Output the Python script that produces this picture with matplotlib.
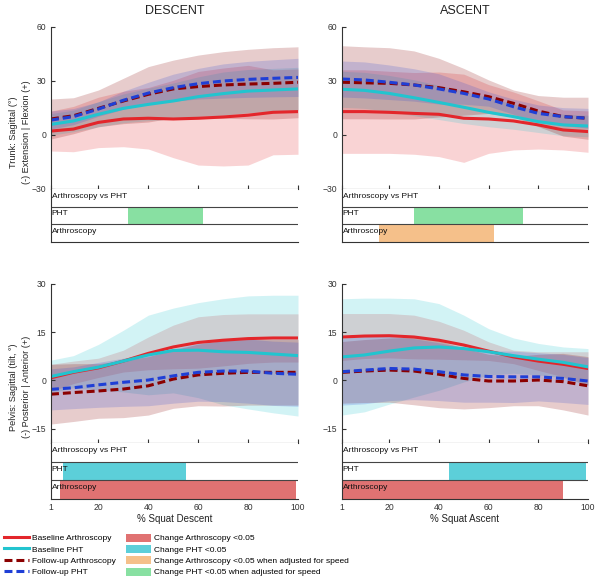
import matplotlib
matplotlib.use("Agg")
import matplotlib.pyplot as plt
from matplotlib.patches import Patch
from matplotlib.lines import Line2D

plt.rcParams["font.family"] = ["Liberation Sans", "DejaVu Sans"]

# % of squat phase where values were read
pct = [1, 10, 20, 30, 40, 50, 60, 70, 80, 90, 100]

# trunk, descent  (ba = baseline arthroscopy, bp = baseline PHT, fa/fp = follow-up)
td_ba = [2.2, 3.3, 7.0, 8.9, 9.3, 8.9, 9.3, 10.0, 11.0, 12.6, 13.0]
td_ba_sd = [11.1, 12.6, 14.0, 15.4, 17.1, 21.5, 26.0, 27.2, 27.7, 23.6, 23.7]
td_bp = [5.9, 7.8, 11.5, 14.8, 17.0, 18.9, 21.3, 23.0, 24.4, 25.0, 25.6]
td_bp_sd = [6, 6, 7, 8, 9, 10, 11, 12, 12, 12, 12]
td_fa = [8.9, 10.7, 14.8, 18.9, 22.6, 25.6, 26.9, 27.8, 28.3, 28.7, 29.3]
td_fa_sd = [11.1, 10.0, 10.2, 12.6, 15.4, 16.0, 17.5, 18.5, 19.3, 19.8, 19.7]
td_fp = [8.3, 10.2, 14.4, 19.3, 23.3, 26.3, 28.5, 30.0, 30.9, 31.5, 32.0]
td_fp_sd = [5, 4.5, 4, 5, 6, 7.5, 8.5, 9.5, 10, 10.3, 10.6]

# trunk, ascent
ta_ba = [13.0, 13.0, 12.6, 12.0, 11.5, 9.3, 8.9, 7.8, 5.6, 2.8, 1.9]
ta_ba_sd = [23.2, 23.2, 22.8, 22.7, 23.5, 24.5, 19.1, 16.1, 13.4, 11.1, 11.5]
ta_bp = [25.4, 24.8, 23.1, 20.7, 18.1, 15.4, 12.6, 10.2, 7.4, 5.6, 5.0]
ta_bp_sd = [10, 10, 10, 10, 9.5, 9, 8, 7, 6, 6, 6]
ta_fa = [29.3, 29.0, 28.7, 27.8, 26.3, 24.0, 21.3, 17.6, 13.3, 10.2, 9.3]
ta_fa_sd = [20.3, 20.0, 19.8, 18.9, 16.3, 13.0, 9.3, 7.4, 8.6, 10.8, 11.7]
ta_fp = [31.1, 30.6, 29.3, 27.8, 25.6, 23.1, 20.0, 15.7, 12.0, 10.2, 9.3]
ta_fp_sd = [10, 10, 9.6, 9, 8.4, 6, 4, 4.2, 4.7, 5, 5.5]

# pelvis, descent
pd_ba = [0.8, 2.5, 3.9, 6.0, 8.4, 10.4, 11.8, 12.5, 13.0, 13.2, 13.2]
pd_ba_sd = [4.2, 3.5, 3.0, 3.4, 5.1, 6.8, 8.0, 8.0, 7.7, 7.5, 7.5]
pd_bp = [1.2, 2.7, 4.1, 6.0, 7.9, 9.3, 9.4, 8.9, 8.7, 8.2, 7.7]
pd_bp_sd = [5.1, 5.0, 7.1, 9.6, 12.4, 13.2, 14.8, 16.5, 17.6, 18.3, 18.8]
pd_fa = [-4.3, -3.8, -3.3, -2.7, -1.7, 0.4, 1.7, 2.2, 2.5, 2.5, 2.5]
pd_fa_sd = [9.3, 9.0, 8.5, 8.9, 9.1, 9.1, 9.6, 10.2, 10.2, 10.2, 10.2]
pd_fp = [-2.8, -2.3, -1.4, -0.6, 0.1, 1.4, 2.5, 2.9, 2.9, 2.2, 1.9]
pd_fp_sd = [6.4, 6.5, 7, 7.5, 8, 8.5, 9, 9.5, 10, 10, 10]

# pelvis, ascent
pa_ba = [13.5, 13.8, 13.9, 13.5, 12.5, 11.0, 9.1, 7.3, 6.0, 5.0, 3.7]
pa_ba_sd = [7.3, 7.0, 6.9, 6.8, 5.9, 4.6, 2.9, 2.1, 2.9, 3.9, 5.2]
pa_bp = [7.3, 7.9, 9.1, 10.1, 10.4, 9.9, 8.9, 7.7, 6.6, 5.6, 4.2]
pa_bp_sd = [18.1, 17.7, 16.5, 15.3, 13.5, 10.4, 7.2, 5.5, 4.9, 4.8, 5.7]
pa_fa = [2.5, 2.9, 3.2, 2.9, 1.9, 0.6, -0.2, -0.2, 0.1, -0.4, -1.7]
pa_fa_sd = [9.6, 9.8, 10.0, 10.5, 10.4, 9.5, 8.3, 7.7, 8.0, 8.8, 9.1]
pa_fp = [2.7, 3.2, 3.7, 3.5, 2.7, 1.7, 1.2, 1.1, 1.1, 0.6, -0.2]
pa_fp_sd = [10.4, 10.5, 10, 9.5, 9, 8.5, 8, 8, 7.5, 7.5, 7.3]

# significant ranges (% squat): (start, end)
td_pht_adj = (32, 62)
ta_pht_adj = (30, 74)
ta_arth_adj = (16, 62)
pd_pht = (6, 55)
pd_arth = (4.5, 99)
pa_pht = (44, 99)
pa_arth = (1, 90)

C_BA = "#e3262b"
C_BP = "#22c4cf"
C_FA = "#8b0000"
C_FP = "#1f3fd6"
C_SIG_A = "#e07272"
C_SIG_P = "#5ccfd9"
C_ADJ_A = "#f5c08a"
C_ADJ_P = "#88e0a2"
DASH = (2.6, 1.3)


def band(ax, m, sd, color, alpha):
    lo = [a - b for a, b in zip(m, sd)]
    hi = [a + b for a, b in zip(m, sd)]
    ax.fill_between(pct, lo, hi, color=color, alpha=alpha, lw=0)


def main_panel(ax, ba, ba_sd, bp, bp_sd, fa, fa_sd, fp, fp_sd, ylim, yticks):
    band(ax, ba, ba_sd, C_BA, 0.2)
    band(ax, bp, bp_sd, C_BP, 0.2)
    band(ax, fa, fa_sd, C_FA, 0.2)
    band(ax, fp, fp_sd, C_FP, 0.18)
    ax.plot(pct, ba, color=C_BA, lw=2.2)
    ax.plot(pct, bp, color=C_BP, lw=2.2)
    ax.plot(pct, fa, color=C_FA, lw=2.2, dashes=DASH)
    ax.plot(pct, fp, color=C_FP, lw=2.2, dashes=DASH)
    ax.set_xlim(1, 100)
    ax.set_ylim(*ylim)
    ax.set_yticks(yticks)
    ax.set_xticks([1, 20, 40, 60, 80, 100])
    ax.set_xticklabels([])
    ax.spines["top"].set_visible(False)
    ax.spines["right"].set_visible(False)
    for s in ["left", "bottom"]:
        ax.spines[s].set_color("#333333")
        ax.spines[s].set_linewidth(0.8)
    ax.tick_params(direction="in", length=3, width=0.8, labelsize=6.2,
                   colors="#333333", labelcolor="#333333")


def strip_panel(ax, pht=None, arth=None, pht_color=None, arth_color=None, xlabel=None):
    if pht is not None:
        ax.axvspan(pht[0], pht[1], ymin=1/3, ymax=2/3, color=pht_color, lw=0)
    if arth is not None:
        ax.axvspan(arth[0], arth[1], ymin=0, ymax=1/3, color=arth_color, lw=0)
    ax.set_xlim(1, 100)
    ax.set_ylim(0, 3)
    for yy in [1, 2]:
        ax.axhline(yy, color="#444444", lw=0.8)
    ax.set_yticks([])
    ax.spines["top"].set_visible(False)
    ax.spines["right"].set_visible(False)
    for s in ["left", "bottom"]:
        ax.spines[s].set_color("#333333")
        ax.spines[s].set_linewidth(0.8)
    ax.set_xticks([1, 20, 40, 60, 80, 100])
    ax.tick_params(axis="x", length=0, labelsize=6.2, colors="#333333", pad=3)
    if xlabel is None:
        ax.set_xticklabels([])
    else:
        ax.set_xlabel(xlabel, fontsize=7, color="#222222", labelpad=1)
    for yy, txt in [(2.6, "Arthroscopy vs PHT"), (1.6, "PHT"), (0.6, "Arthroscopy")]:
        ax.text(1.3, yy, txt, fontsize=6, va="center", ha="left", color="#111111")


fig = plt.figure(figsize=(6.0, 5.84), dpi=100)
W, H = 600.0, 584.0


def box(x0, y0, x1, y1):
    return [x0 / W, 1 - y1 / H, (x1 - x0) / W, (y1 - y0) / H]


cols = [(51, 298), (342, 588)]

ax = fig.add_axes(box(cols[0][0], 27, cols[0][1], 189))
main_panel(ax, td_ba, td_ba_sd, td_bp, td_bp_sd, td_fa, td_fa_sd, td_fp, td_fp_sd,
           (-30, 60), [-30, 0, 30, 60])
ax.set_title("DESCENT", fontsize=9, color="#222222", pad=9)
ax = fig.add_axes(box(cols[1][0], 27, cols[1][1], 189))
main_panel(ax, ta_ba, ta_ba_sd, ta_bp, ta_bp_sd, ta_fa, ta_fa_sd, ta_fp, ta_fp_sd,
           (-30, 60), [-30, 0, 30, 60])
ax.set_title("ASCENT", fontsize=9, color="#222222", pad=9)

ax = fig.add_axes(box(cols[0][0], 189, cols[0][1], 242))
strip_panel(ax, pht=td_pht_adj, pht_color=C_ADJ_P)
ax = fig.add_axes(box(cols[1][0], 189, cols[1][1], 242))
strip_panel(ax, pht=ta_pht_adj, arth=ta_arth_adj, pht_color=C_ADJ_P, arth_color=C_ADJ_A)

ax = fig.add_axes(box(cols[0][0], 284, cols[0][1], 443))
main_panel(ax, pd_ba, pd_ba_sd, pd_bp, pd_bp_sd, pd_fa, pd_fa_sd, pd_fp, pd_fp_sd,
           (-19.5, 30), [-15, 0, 15, 30])
ax = fig.add_axes(box(cols[1][0], 284, cols[1][1], 443))
main_panel(ax, pa_ba, pa_ba_sd, pa_bp, pa_bp_sd, pa_fa, pa_fa_sd, pa_fp, pa_fp_sd,
           (-19.5, 30), [-15, 0, 15, 30])

ax = fig.add_axes(box(cols[0][0], 443, cols[0][1], 499))
strip_panel(ax, pht=pd_pht, arth=pd_arth, pht_color=C_SIG_P, arth_color=C_SIG_A,
            xlabel="% Squat Descent")
ax = fig.add_axes(box(cols[1][0], 443, cols[1][1], 499))
strip_panel(ax, pht=pa_pht, arth=pa_arth, pht_color=C_SIG_P, arth_color=C_SIG_A,
            xlabel="% Squat Ascent")

fig.text(20 / W, 1 - 132 / H, "Trunk: Sagittal (°)\n(-) Extension | Flexion (+)",
         rotation=90, ha="center", va="center", fontsize=6.6, color="#222222",
         multialignment="center", linespacing=1.45)
fig.text(20 / W, 1 - 387 / H, "Pelvis: Sagittal (tilt, °)\n(-) Posterior | Anterior (+)",
         rotation=90, ha="center", va="center", fontsize=6.6, color="#222222",
         multialignment="center", linespacing=1.45)

handles = [
    Line2D([], [], color=C_BA, lw=2.2),
    Line2D([], [], color=C_BP, lw=2.2),
    Line2D([], [], color=C_FA, lw=2.2, dashes=DASH),
    Line2D([], [], color=C_FP, lw=2.2, dashes=DASH),
    Patch(color=C_SIG_A, lw=0),
    Patch(color=C_SIG_P, lw=0),
    Patch(color=C_ADJ_A, lw=0),
    Patch(color=C_ADJ_P, lw=0),
]
labels = [
    "Baseline Arthroscopy", "Baseline PHT", "Follow-up Arthroscopy", "Follow-up PHT",
    "Change Arthroscopy <0.05", "Change PHT <0.05",
    "Change Arthroscopy <0.05 when adjusted for speed",
    "Change PHT <0.05 when adjusted for speed",
]
fig.legend(handles, labels, loc="upper left", bbox_to_anchor=(2 / W, 1 - 532 / H),
           ncol=2, frameon=False, fontsize=6, handlelength=3.0, handleheight=1.1,
           handletextpad=0.4, labelspacing=0.3, columnspacing=1.2, borderpad=0.2,
           borderaxespad=0.0)

fig.savefig("out.png", dpi=100)
